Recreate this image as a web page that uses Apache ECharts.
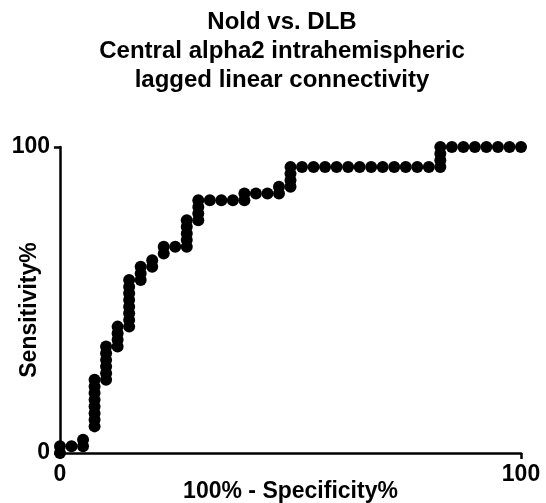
<!DOCTYPE html>
<html>
<head>
<meta charset="utf-8">
<script src="https://cdn.jsdelivr.net/npm/echarts@6/dist/echarts.min.js"></script>
<style>
html,body{margin:0;padding:0;background:#fff;}
#c{width:546px;height:503px;}
</style>
</head>
<body>
<div id="c"></div>
<script>
// 100% - Specificity% (x) and Sensitivity% (y) for each ROC point
const specPct = [
  0, 0, 2.5, 5, 5,
  7.5, 7.5, 7.5, 7.5, 7.5, 7.5, 7.5, 7.5,
  10, 10, 10, 10, 10, 10,
  12.5, 12.5, 12.5, 12.5,
  15, 15, 15, 15, 15, 15, 15, 15,
  17.5, 17.5, 17.5,
  20, 20,
  22.5, 22.5,
  25,
  27.5, 27.5, 27.5, 27.5, 27.5,
  30, 30, 30, 30,
  32.5, 35, 37.5,
  40, 40,
  42.5, 45,
  47.5, 47.5,
  50, 50, 50, 50,
  52.5, 55, 57.5, 60, 62.5, 65, 67.5, 70, 72.5, 75, 77.5, 80,
  82.5, 82.5, 82.5, 82.5,
  85, 87.5, 90, 92.5, 95, 97.5, 100
];
const sensPct = [
  0, 2.2, 2.2, 2.2, 4.3,
  8.7, 10.9, 13.0, 15.2, 17.4, 19.6, 21.7, 23.9,
  23.9, 26.1, 28.3, 30.4, 32.6, 34.8,
  34.8, 37.0, 39.1, 41.3,
  41.3, 43.5, 45.7, 47.8, 50.0, 52.2, 54.3, 56.5,
  56.5, 58.7, 60.9,
  60.9, 63.0,
  65.2, 67.4,
  67.4,
  67.4, 69.6, 71.7, 73.9, 76.1,
  76.1, 78.3, 80.4, 82.6,
  82.6, 82.6, 82.6,
  82.6, 84.8,
  84.8, 84.8,
  84.8, 87.0,
  87.0, 89.1, 91.3, 93.5,
  93.5, 93.5, 93.5, 93.5, 93.5, 93.5, 93.5, 93.5, 93.5, 93.5, 93.5, 93.5,
  93.5, 95.7, 97.8, 100,
  100, 100, 100, 100, 100, 100, 100
];
const titleLines = ['Nold vs. DLB', 'Central alpha2 intrahemispheric', 'lagged linear connectivity'];
const xTicks = [0, 100];
const yTicks = [0, 100];

const points = specPct.map((x, i) => [x, sensPct[i]]);
const font = 'Liberation Sans, Arial, sans-serif';

const chart = echarts.init(document.getElementById('c'), null, {renderer: 'canvas'});
chart.setOption({
  animation: false,
  backgroundColor: '#ffffff',
  title: {
    text: titleLines.join('\n'),
    left: 277,
    top: 3,
    textAlign: 'center',
    textStyle: {
      fontFamily: font, fontSize: 24, fontWeight: 'bold', color: '#000', lineHeight: 29
    }
  },
  grid: {left: 60, right: 25, top: 147, bottom: 50, containLabel: false, outerBoundsMode: 'none'},
  xAxis: {
    type: 'value', min: xTicks[0], max: xTicks[1], interval: 100,
    name: '100% - Specificity%', nameLocation: 'middle', nameGap: 27, nameMoveOverlap: false,
    nameTextStyle: {fontFamily: font, fontSize: 23, fontWeight: 'bold', color: '#000'},
    axisLine: {show: true, lineStyle: {color: '#000', width: 2.5}},
    axisTick: {show: true, inside: false, length: 6, lineStyle: {color: '#000', width: 2.5}},
    axisLabel: {fontFamily: font, fontSize: 23, fontWeight: 'bold', color: '#000', margin: 10},
    splitLine: {show: false}
  },
  yAxis: {
    type: 'value', min: yTicks[0], max: yTicks[1], interval: 100,
    name: 'Sensitivity%', nameLocation: 'middle', nameGap: 19, nameRotate: 90, nameMoveOverlap: false,
    nameTextStyle: {fontFamily: font, fontSize: 23, fontWeight: 'bold', color: '#000', padding: [0, 20, 0, 0]},
    axisLine: {show: true, lineStyle: {color: '#000', width: 2.5}},
    axisTick: {show: true, inside: false, length: 6, lineStyle: {color: '#000', width: 2.5}},
    axisLabel: {fontFamily: font, fontSize: 23, fontWeight: 'bold', color: '#000', margin: 10},
    splitLine: {show: false}
  },
  series: [{
    type: 'scatter',
    data: points,
    symbol: 'circle',
    symbolSize: 12,
    clip: false,
    itemStyle: {color: '#000', opacity: 1},
    z: 3
  }]
});
</script>
</body>
</html>
